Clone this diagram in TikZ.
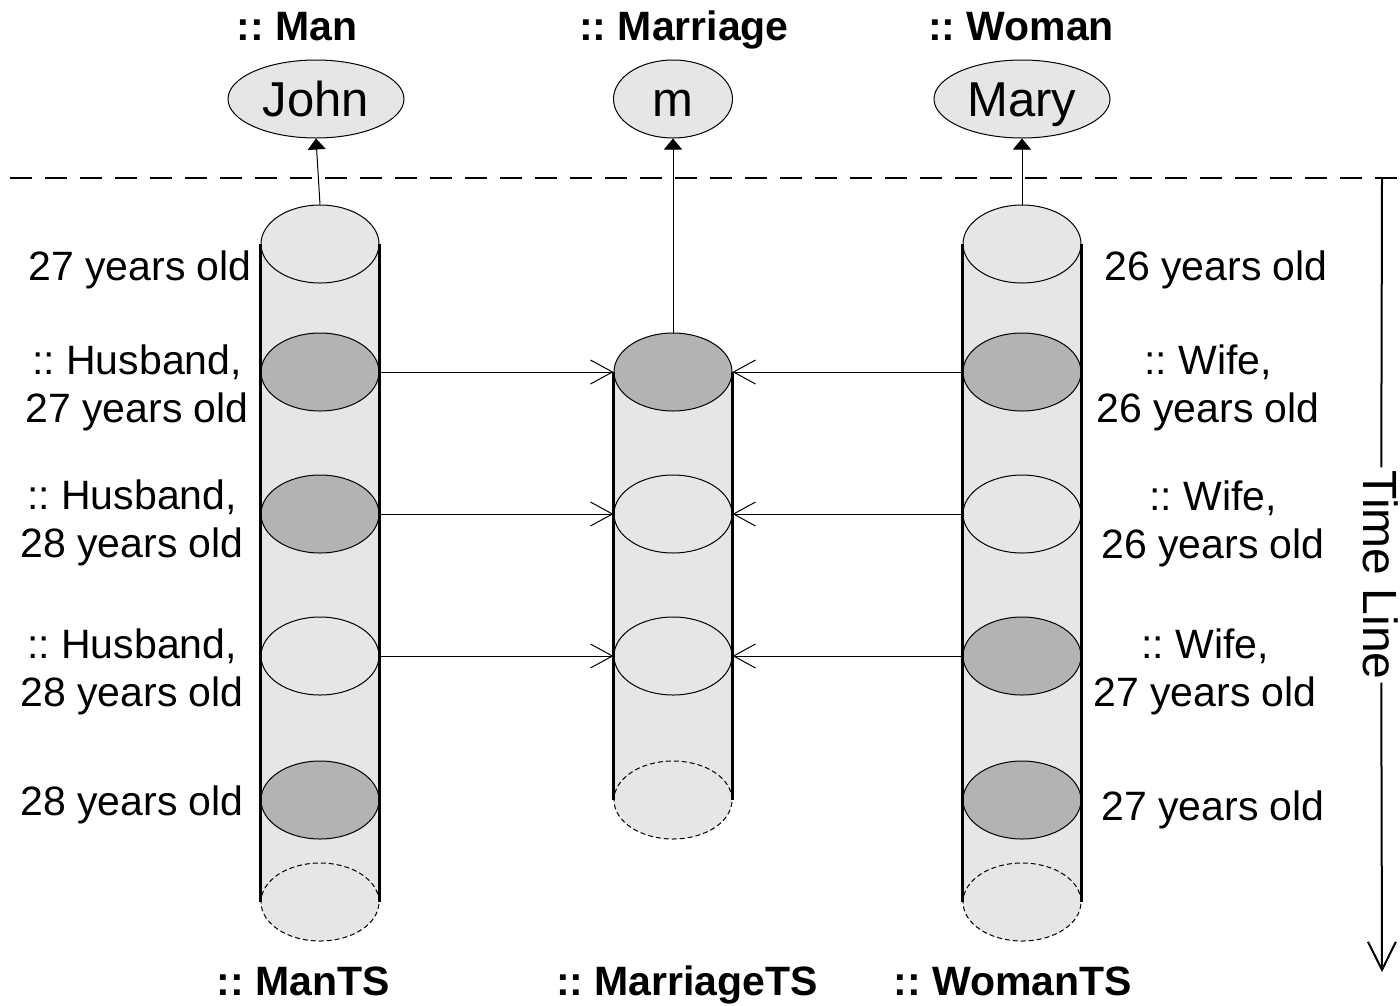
\documentclass[tikz,border=0pt]{standalone}
\usepackage{fontspec}
\setmainfont{Liberation Sans}
\usetikzlibrary{shapes.geometric,arrows.meta,backgrounds}

\definecolor{cylbody}{HTML}{E6E6E6}
\definecolor{cylmark}{HTML}{B3B3B3}

\tikzset{
	slice/.style={ellipse, draw, line width=1pt, fill=cylbody, minimum width=118pt, minimum height=78pt, inner sep=0pt},
	markslice/.style={slice, fill=cylmark},
	endslice/.style={slice, dash pattern=on 5pt off 3pt},
	side/.style={line width=2.5pt},
	obj/.style={ellipse, draw, line width=1pt, fill=cylbody, minimum width=176pt, minimum height=78pt, inner sep=0pt, text height=35pt, text depth=0pt, font=\fontsize{49}{50}\selectfont},
	lbl/.style={align=center, inner sep=0pt, font=\fontsize{41}{47.5}\selectfont},
	typ/.style={anchor=base, inner sep=0pt, font=\fontsize{41}{47.5}\selectfont\bfseries},
	link/.style={line width=1pt, -{Straight Barb[length=22pt,width=24pt]}},
	inst/.style={line width=1pt, -{Triangle[length=11pt,width=18pt]}}
}

\begin{document}
\frenchspacing
\begin{tikzpicture}[x=1pt,y=1pt,yscale=-1]
	\useasboundingbox (0,0) rectangle (1400,1005);

	% objects
	\node[obj] (john) at (316,99) {John};
	\node[obj, minimum width=119pt] (m) at (673,99) {m};
	\node[obj] (mary) at (1022,99) {Mary};
	\node[typ] (tman) at (297,40) {:: Man};
	\node[typ] (tmar) at (684,40) {:: Marriage};
	\node[typ] (twom) at (1021,40) {:: Woman};

	% time line
	\coordinate (dashl) at (10,178);
	\coordinate (dashr) at (1398,178);
	\draw[line width=2.5pt, dash pattern=on 22pt off 13pt] (dashl) -- (dashr);
	\coordinate (tltop) at (1382,178);
	\coordinate (tlend) at (1382,972);
	\node[rotate=-90, inner xsep=3pt, inner ysep=0pt, font=\fontsize{48}{50}\selectfont] (tl) at (1381,575) {Time Line};
	\draw[line width=2pt] (tltop) -- (tl);
	\draw[line width=2pt, -{Straight Barb[length=28pt,width=28pt]}] (tl) -- (tlend);

	% ManTS
	\node[slice] (man1) at (320,244) {};
	\node[markslice] (man2) at (320,372) {};
	\node[markslice] (man3) at (320,514) {};
	\node[slice] (man4) at (320,656) {};
	\node[markslice] (man5) at (320,800) {};
	\node[endslice] (man6) at (320,902) {};
	% MarriageTS
	\node[markslice] (mar1) at (673,372) {};
	\node[slice] (mar2) at (673,514) {};
	\node[slice] (mar3) at (673,656) {};
	\node[endslice] (mar4) at (673,800) {};
	% WomanTS
	\node[slice] (wom1) at (1022,244) {};
	\node[markslice] (wom2) at (1022,372) {};
	\node[slice] (wom3) at (1022,514) {};
	\node[markslice] (wom4) at (1022,656) {};
	\node[markslice] (wom5) at (1022,800) {};
	\node[endslice] (wom6) at (1022,902) {};

	\begin{scope}[on background layer]
		\fill[cylbody] (man1.center -| man1.west) rectangle (man6.center -| man6.east);
		\fill[cylbody] (mar1.center -| mar1.west) rectangle (mar4.center -| mar4.east);
		\fill[cylbody] (wom1.center -| wom1.west) rectangle (wom6.center -| wom6.east);
	\end{scope}
	\draw[side] (man1.west) -- (man6.west);
	\draw[side] (man1.east) -- (man6.east);
	\draw[side] (mar1.west) -- (mar4.west);
	\draw[side] (mar1.east) -- (mar4.east);
	\draw[side] (wom1.west) -- (wom6.west);
	\draw[side] (wom1.east) -- (wom6.east);

	\node[typ] (bman) at (303,995) {:: ManTS};
	\node[typ] (bmar) at (687,995) {:: MarriageTS};
	\node[typ] (bwom) at (1013,995) {:: WomanTS};

	% instance links
	\draw[inst] (man1.north) -- (john.south);
	\draw[inst] (mar1.north) -- (m.south);
	\draw[inst] (wom1.north) -- (mary.south);

	% role links
	\draw[link] (man2.east) -- (mar1.west);
	\draw[link] (man3.east) -- (mar2.west);
	\draw[link] (man4.east) -- (mar3.west);
	\draw[link] (wom2.west) -- (mar1.east);
	\draw[link] (wom3.west) -- (mar2.east);
	\draw[link] (wom4.west) -- (mar3.east);

	% slice labels
	\node[lbl] (mlbl1) at (140,269.5) {27 years old};
	\node[lbl] (mlbl2) at (137,388) {:: Husband,\\27 years old};
	\node[lbl] (mlbl3) at (132,523) {:: Husband,\\28 years old};
	\node[lbl] (mlbl4) at (132,672) {:: Husband,\\28 years old};
	\node[lbl] (mlbl5) at (132,804.5) {28 years old};
	\node[lbl] (wlbl1) at (1216,269.5) {26 years old};
	\node[lbl] (wlbl2) at (1208,388) {:: Wife,\\26 years old};
	\node[lbl] (wlbl3) at (1213,524) {:: Wife,\\26 years old};
	\node[lbl] (wlbl4) at (1205,672) {:: Wife,\\27 years old};
	\node[lbl] (wlbl5) at (1213,809.5) {27 years old};
\end{tikzpicture}
\end{document}
